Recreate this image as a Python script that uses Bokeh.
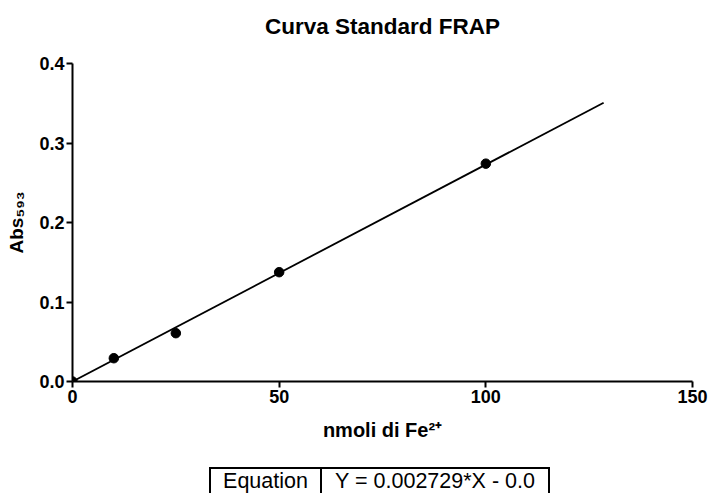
from bokeh.plotting import figure
from bokeh.layouts import column
from bokeh.models import Range1d, FixedTicker, CustomJSTickFormatter, Div
from bokeh.embed import file_html
from bokeh.resources import INLINE

# Standard curve data
nmol_fe = [0, 10, 25, 50, 100]
abs_593 = [0.0, 0.0293, 0.0608, 0.1375, 0.274]

# Linear fit
slope = 0.002729
intercept = 0.0
fit_x = [0, 128.5]
fit_y = [slope * x + intercept for x in fit_x]

x_ticks = [0, 50, 100, 150]
y_ticks = [0.0, 0.1, 0.2, 0.3, 0.4]

title_text = "Curva Standard FRAP"
x_label = "nmoli di Fe²⁺"
y_label = "Abs₅₉₃"
equation_head = "Equation"
equation_text = "Y = 0.002729*X - 0.0"

FONT = "Liberation Sans"
CSS_FONT = "font-family:'Liberation Sans',Arial,sans-serif;color:#000;white-space:nowrap;"

# Title strip above the plot
title_html = (
    '<div style="position:relative;width:708px;height:40px;overflow:hidden;background:#fff;">'
    f'<div style="position:absolute;left:0;top:14px;width:765px;text-align:center;'
    f'font-size:22.5px;font-weight:bold;line-height:26px;{CSS_FONT}">{title_text}</div>'
    '</div>'
)
title = Div(text=title_html, width=708, height=40, margin=(0, 0, 0, 0))

p = figure(width=708, height=426, output_backend="svg", toolbar_location=None,
           x_range=Range1d(0, 150), y_range=Range1d(0, 0.4),
           min_border_left=72, min_border_right=16, min_border_top=23,
           min_border_bottom=85)
p.outline_line_color = None
p.grid.visible = False
p.background_fill_color = "white"
p.border_fill_color = "white"

for ax in (p.xaxis[0], p.yaxis[0]):
    ax.axis_line_width = 2
    ax.axis_line_color = "black"
    ax.major_tick_line_width = 2
    ax.major_tick_in = 0
    ax.major_tick_out = 6
    ax.minor_tick_line_color = None
    ax.major_label_text_font = FONT
    ax.major_label_text_font_size = "18px"
    ax.major_label_text_font_style = "bold"
    ax.major_label_text_color = "black"
    ax.axis_label_text_font = FONT
    ax.axis_label_text_font_style = "bold"
    ax.axis_label_text_color = "black"

p.xaxis.ticker = FixedTicker(ticks=x_ticks)
p.yaxis.ticker = FixedTicker(ticks=y_ticks)
p.yaxis.formatter = CustomJSTickFormatter(code="return tick.toFixed(1);")
p.xaxis.major_label_standoff = 2
p.yaxis.major_label_standoff = 2

p.xaxis.axis_label = x_label
p.xaxis.axis_label_text_font_size = "20px"
p.xaxis.axis_label_standoff = 13
p.yaxis.axis_label = y_label
p.yaxis.axis_label_text_font_size = "19px"
p.yaxis.axis_label_standoff = 9

p.line(fit_x, fit_y, line_color="black", line_width=1.8)
p.scatter(nmol_fe, abs_593, size=9.5, color="black")

# Equation table under the chart
cell = ("position:absolute;top:1px;height:40px;box-sizing:border-box;"
        "border:2px solid #000;line-height:24px;text-align:center;"
        f"font-size:21.5px;{CSS_FONT}")
table_html = (
    '<div style="position:relative;width:708px;height:27px;overflow:hidden;background:#fff;">'
    f'<div style="{cell}left:209px;width:113px;">{equation_head}</div>'
    f'<div style="{cell}left:320px;width:230px;">{equation_text}</div>'
    '</div>'
)
table = Div(text=table_html, width=708, height=27, margin=(0, 0, 0, 0))

layout = column(title, p, table, spacing=0)
open("out.html", "w").write(file_html(layout, INLINE))
